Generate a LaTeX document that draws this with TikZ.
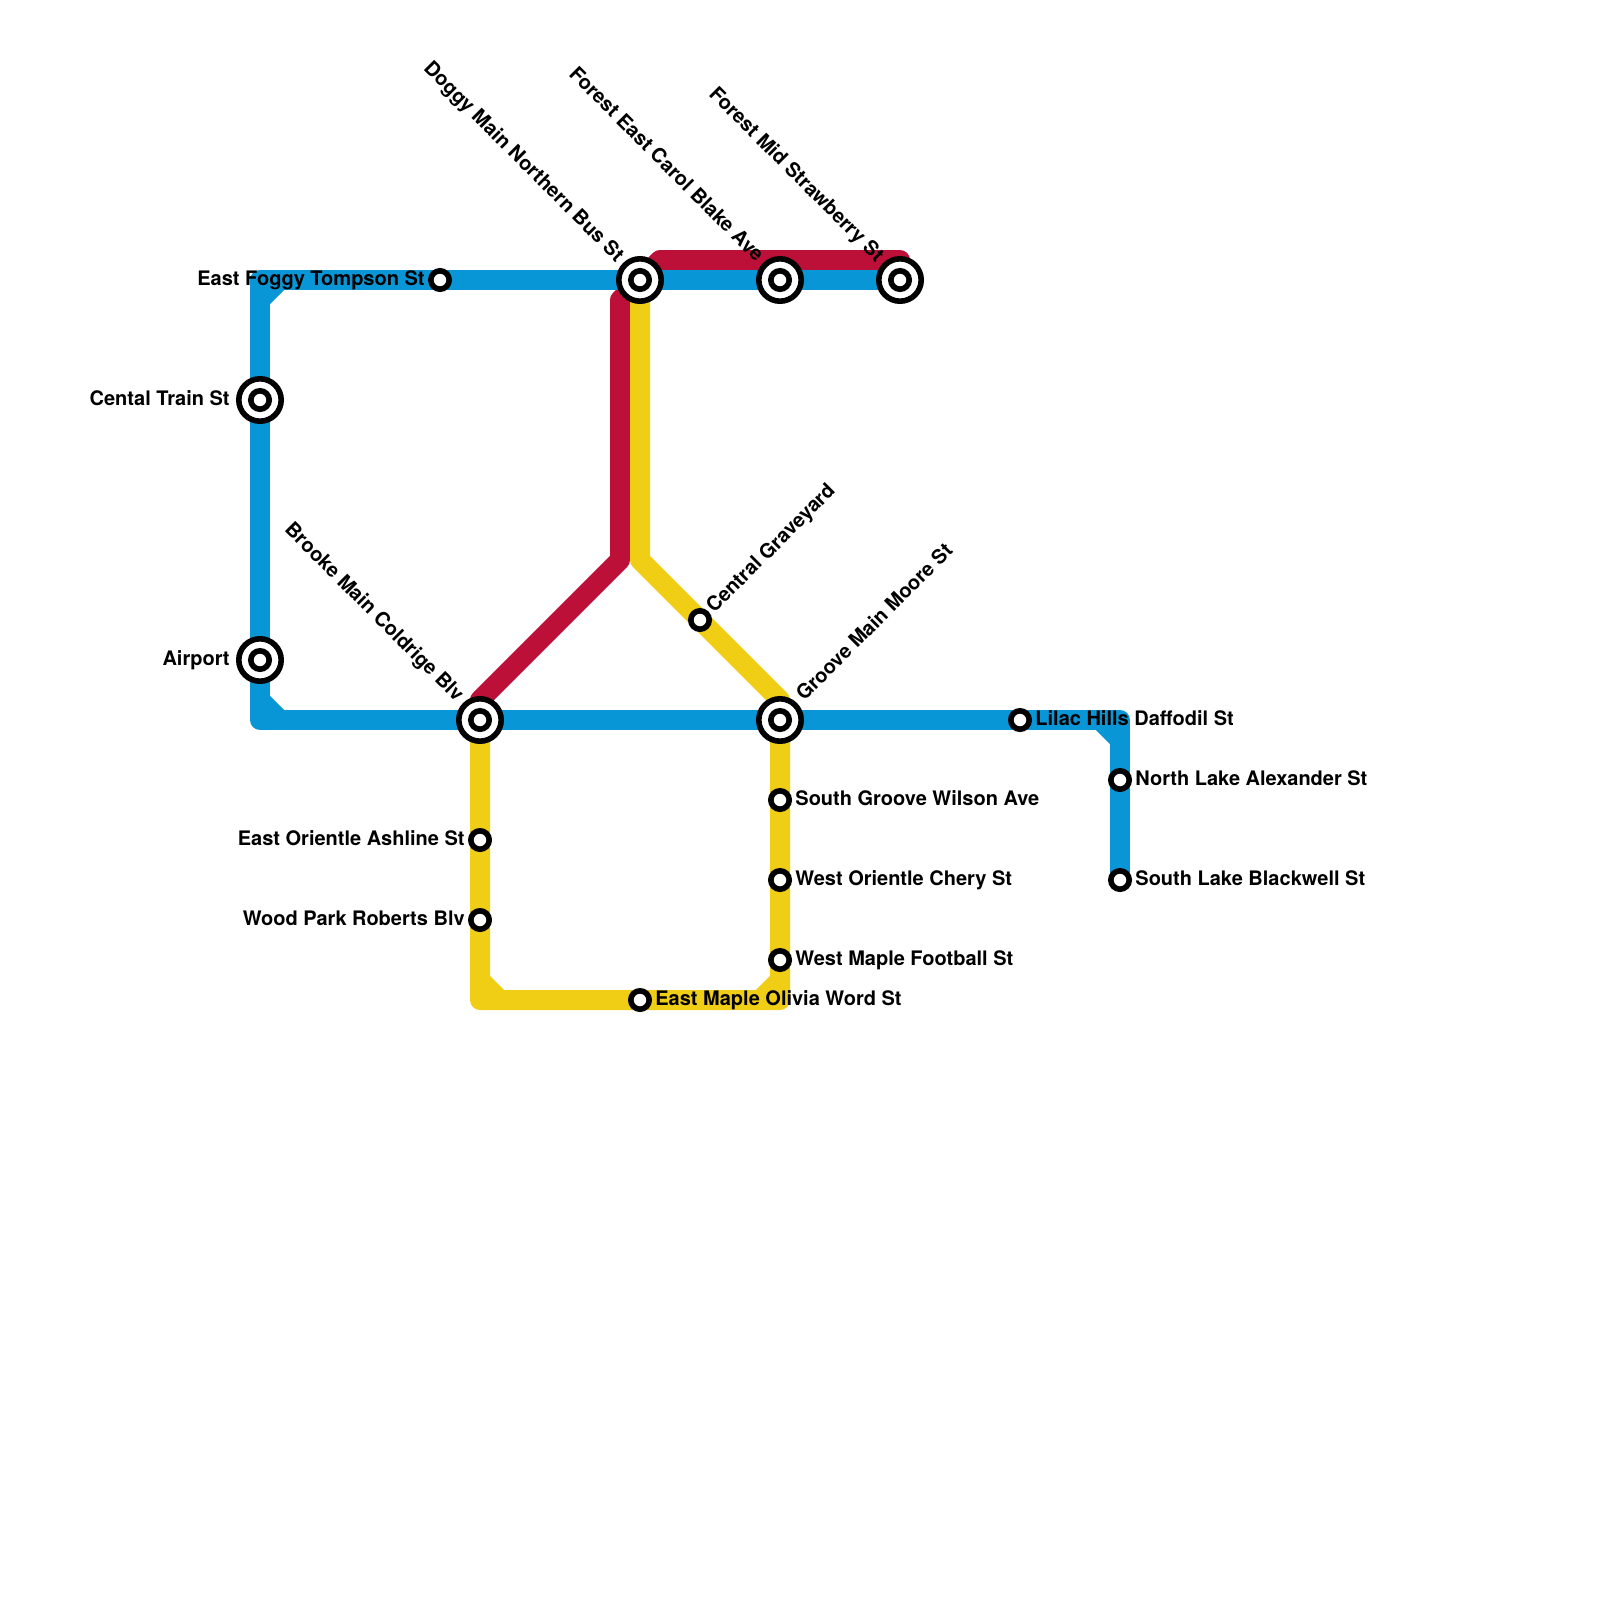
\documentclass[tikz,border=0pt]{standalone}
\usepackage{fontspec}
\setmainfont{TeX Gyre Heros}
\usetikzlibrary{backgrounds}
\definecolor{lineblue}{HTML}{0896D7}
\definecolor{linered}{HTML}{BD1038}
\definecolor{lineyellow}{HTML}{F0CE15}
\tikzset{
  track/.style={line width=10pt, line join=round},
  stop/.style={circle, draw=black, fill=white, line width=2.8pt, minimum size=9.2pt, inner sep=0pt, outer sep=0pt},
  hub/.style={circle, draw=black, fill=white, line width=2.8pt, minimum size=21.2pt, inner sep=0pt, outer sep=0pt,
    path picture={\draw[line width=2.8pt] (path picture bounding box.center) circle (4.6pt);}},
  lbl/.style={font=\fontsize{10}{12}\selectfont\bfseries, inner sep=0pt, text=black},
}
\begin{document}
\begin{tikzpicture}[x=0.5pt,y=-0.5pt]
\useasboundingbox (0,0) rectangle (1600,1600);
% stations
\foreach \name/\x/\y in {foggy/440/280,eastashline/480/840,woodpark/480/920,graveyard/700/620,wilson/780/800,chery/780/880,football/780/960,olivia/640/1000,lilac/1020/720,alexander/1120/780,blackwell/1120/880}
    \node[stop] (\name) at (\x,\y) {};
\foreach \name/\x/\y in {doggy/640/280,carol/780/280,strawberry/900/280,cental/260/400,airport/260/660,brooke/480/720,groove/780/720}
    \node[hub] (\name) at (\x,\y) {};
% bends
\foreach \name/\x/\y in {tl/260/280,tla/260/300,tlb/280/280,bl/260/720,bla/260/700,blb/280/720,br/1120/720,bra/1100/720,brb/1120/740,
    ra/480/700,rb/620/560,rc/620/300,rd/660/260,re/900/260,
    ya/640/560,yb/780/700,yc/480/1000,yd/780/1000,ye/480/980,yf/500/1000,yg/760/1000,yh/780/980}
    \coordinate (\name) at (\x,\y);
% lines
\begin{scope}[on background layer]
\draw[track, linered] (brooke.center) -- (ra) -- (rb) -- (rc) -- (doggy.center) -- (rd) -- (re) -- (strawberry.center);
\draw[track, lineyellow] (doggy.center) -- (ya) -- (yb) -- (groove.center) -- (yd) -- (yc) -- (brooke.center);
\draw[track, lineyellow] (ye) -- (yf);
\draw[track, lineyellow] (yg) -- (yh);
\draw[track, lineblue] (strawberry.center) -- (tl) -- (bl) -- (br) -- (blackwell.center);
\draw[track, lineblue] (tla) -- (tlb);
\draw[track, lineblue] (bla) -- (blb);
\draw[track, lineblue] (bra) -- (brb);
\end{scope}
% labels
\foreach \name/\dx/\txt in {wilson/15/South Groove Wilson Ave,chery/15/West Orientle Chery St,football/15/West Maple Football St,olivia/15/East Maple Olivia Word St,lilac/15/Lilac Hills Daffodil St,alexander/15/North Lake Alexander St,blackwell/15/South Lake Blackwell St}
    \node[lbl, anchor=base west] (\name-lbl) at ([shift={(\dx,5)}]\name.center) {\txt};
\foreach \name/\dx/\txt in {foggy/-15/East Foggy Tompson St,eastashline/-15/East Orientle Ashline St,woodpark/-15/Wood Park Roberts Blv,cental/-30/Cental Train St,airport/-30/Airport}
    \node[lbl, anchor=base east] (\name-lbl) at ([shift={(\dx,5)}]\name.center) {\txt};
\foreach \name/\txt in {doggy/Doggy Main Northern Bus St,carol/Forest East Carol Blake Ave,strawberry/Forest Mid Strawberry St,brooke/Brooke Main Coldrige Blv}
    \node[lbl, anchor=base east, rotate=-45] (\name-lbl) at ([shift={(-24,-17)}]\name.center) {\txt};
\node[lbl, anchor=base west, rotate=45] (graveyard-lbl) at ([shift={(14,-6)}]graveyard.center) {Central Graveyard};
\node[lbl, anchor=base west, rotate=45] (groove-lbl) at ([shift={(24,-18)}]groove.center) {Groove Main Moore St};
\end{tikzpicture}
\end{document}
